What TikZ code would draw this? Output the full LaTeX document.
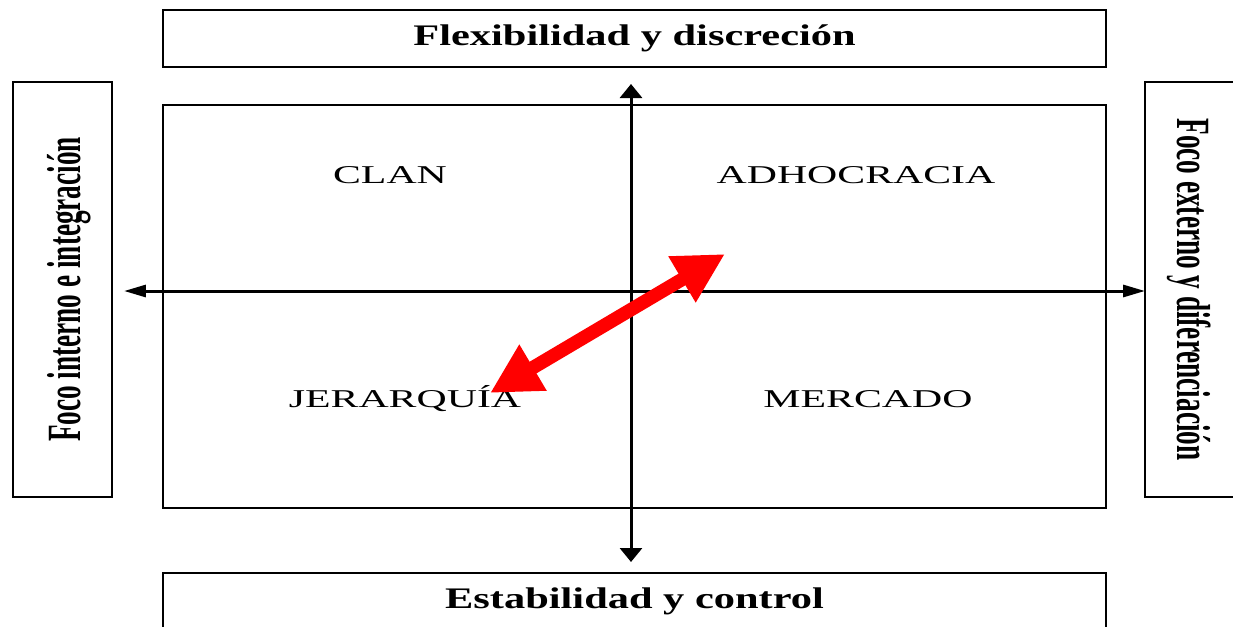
\documentclass[tikz,border=0pt]{standalone}
\usepackage{fontspec}
\setmainfont{Liberation Serif}
\usepackage{xcolor}
\usepackage{tikz}
\usetikzlibrary{positioning,arrows.meta}

\begin{document}
\begin{tikzpicture}[x=0.02cm, y=-0.02cm,
  caja/.style={draw, line width=1pt, fill=white, inner sep=0pt},
  titulo/.style={font=\fontsize{17}{20}\selectfont\bfseries},
  lateral/.style={font=\fontsize{15.5}{18}\selectfont\bfseries},
  cuadrante/.style={font=\fontsize{14.6}{17}\selectfont},
  ejev/.style={line width=1.7pt, {Triangle[length=0.28cm,width=0.44cm]}-{Triangle[length=0.28cm,width=0.44cm]}},
  ejeh/.style={line width=1.7pt, {Triangle[length=0.44cm,width=0.24cm]}-{Triangle[length=0.44cm,width=0.24cm]}},
  flecha/.style={red, line width=0.27cm, {Triangle[length=1.0cm,width=1.0cm]}-{Triangle[length=1.0cm,width=1.0cm]}}]
\useasboundingbox (0,0) rectangle (1233,626);

% Titulos arriba y abajo
\node[caja, titulo, minimum width=18.86cm, minimum height=1.14cm] (flex) at (634.5,38.5) {\scalebox{1.42}[1]{Flexibilidad y discreción}};
\node[caja, titulo, minimum width=18.86cm, minimum height=1.14cm] (estab) at (634.5,601.5) {\scalebox{1.42}[1]{Estabilidad y control}};

% Titulos laterales
\node[caja, lateral, minimum width=1.98cm, minimum height=8.3cm] (interno) at (62.5,289.5) {\hspace*{0.25cm}\rotatebox{90}{\scalebox{1}[1.75]{Foco interno e integración}}};
\node[caja, lateral, minimum width=1.9cm, minimum height=8.3cm] (externo) at (1192.5,289.5) {\rotatebox{-90}{\scalebox{1}[1.75]{Foco externo y diferenciación}}\hspace*{0.15cm}};

% Cuadro central
\node[caja, minimum width=18.86cm, minimum height=8.06cm] (cuadro) at (634.5,306.5) {};

% Ejes
\coordinate (ejeN) at (631,84);
\coordinate (ejeS) at (631,562);
\coordinate (ejeO) at (124,291);
\coordinate (ejeE) at (1145,291);
\draw[ejev] (ejeN) -- (ejeS);
\draw[ejeh] (ejeO) -- (ejeE);

% Cuadrantes
\node[cuadrante] (clan) at (390,175) {\scalebox{1.63}[1]{CLAN}};
\node[cuadrante] (adhoc) at (856,175) {\scalebox{1.63}[1]{ADHOCRACIA}};
\node[cuadrante] (jerarq) at (405,399) {\scalebox{1.63}[1]{JERARQUÍA}};
\node[cuadrante] (mercado) at (868,399) {\scalebox{1.63}[1]{MERCADO}};

% Flecha roja
\coordinate (rojoA) at (490,393);
\coordinate (rojoB) at (725,254);
\draw[flecha] (rojoA) -- (rojoB);
\end{tikzpicture}
\end{document}
